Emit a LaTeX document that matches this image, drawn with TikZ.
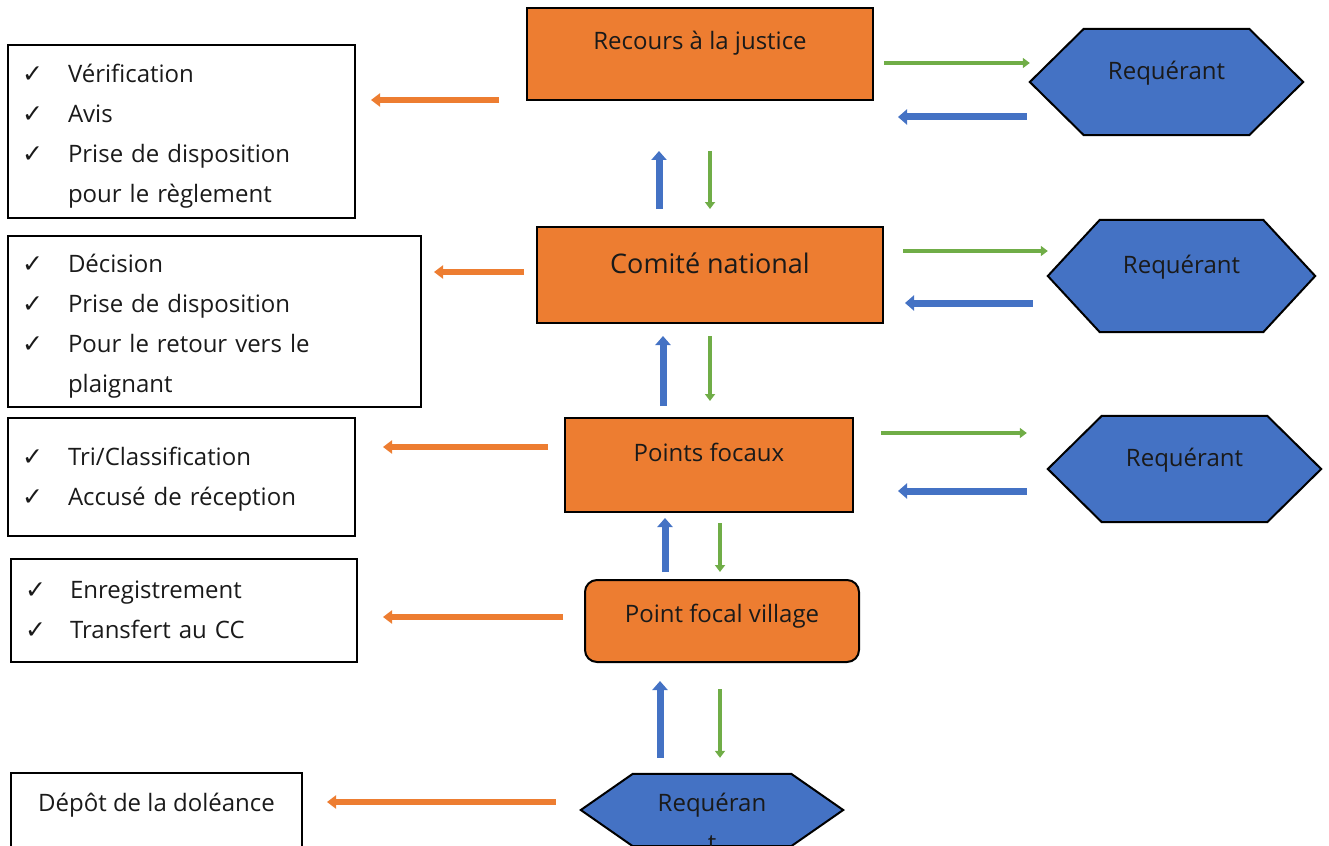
\documentclass[tikz,border=0pt]{standalone}
\usepackage{fontspec}
\setmainfont{Open Sans}
\newfontfamily\chkfont{DejaVu Sans}
\usetikzlibrary{arrows.meta,backgrounds}

\definecolor{orfill}{HTML}{ED7D31}
\definecolor{blfill}{HTML}{4472C4}
\definecolor{grline}{HTML}{70AD47}
\definecolor{txt}{HTML}{1A1A1A}

\newcommand{\chk}{{\chkfont\fontsize{25}{25}\selectfont ✓}}
\newcommand{\firstrow}{\rule{0pt}{34pt}}
% hexagon round an invisible node, #2 = depth of the points
\newcommand{\hexout}[2]{%
  \draw[hexline] (#1.west) -- ([xshift=#2]#1.north west) -- ([xshift=-#2]#1.north east)
    -- (#1.east) -- ([xshift=-#2]#1.south east) -- ([xshift=#2]#1.south west) -- cycle;}

\tikzset{
  procbox/.style={draw=black, line width=2pt, fill=orfill, text=txt, inner sep=0pt,
    font=\fontsize{24}{40}\selectfont, text height=18pt},
  reqbox/.style={inner sep=0pt, text=txt, font=\fontsize{24}{40}\selectfont, text height=18pt},
  hexline/.style={draw=black, line width=2pt, fill=blfill},
  listbox/.style={draw=black, line width=2pt, align=left, inner xsep=14pt, inner ysep=0pt,
    text=txt, font=\fontsize{24}{40}\selectfont},
  grarrow/.style={grline, line width=4.5pt, -{Triangle[width=10pt,length=7pt]}},
  blarrow/.style={blfill, line width=7pt, -{Triangle[width=15pt,length=9pt]}},
  orarrow/.style={orfill, line width=6pt, -{Triangle[width=13pt,length=9pt]}},
}

\begin{document}
\begin{tikzpicture}[x=1pt, y=-1pt]
  \useasboundingbox (0,0) rectangle (1329,845);

  %%t1
  \node[procbox, minimum width=346pt, minimum height=92pt, text depth=26pt] (rj) at (700,54) {Recours à la justice};
  \node[reqbox, minimum width=273pt, minimum height=106pt, text depth=22pt] (h1) at (1166.5,82) {Requérant};
  \node[listbox, text width=319pt, minimum height=173pt] (l1) at (181.5,131.5)
    {\begin{tabular}{@{}p{46pt}@{}l@{}}
      \firstrow\chk & Vérification\\
      \chk & Avis\\
      \chk & Prise de disposition\\
           & pour le règlement
     \end{tabular}};

  %%t2
  \node[procbox, minimum width=346pt, minimum height=96pt, font=\fontsize{27}{40}\selectfont,
    text height=20pt, text depth=23pt] (cn) at (710,275) {Comité national};
  \node[reqbox, minimum width=267pt, minimum height=112pt, text depth=24pt] (h2) at (1181.5,276) {Requérant};
  \node[listbox, text width=385pt, minimum height=171pt] (l2) at (214.5,321.5)
    {\begin{tabular}{@{}p{46pt}@{}l@{}}
      \firstrow\chk & Décision\\
      \chk & Prise de disposition\\
      \chk & Pour le retour vers le\\
           & plaignant
     \end{tabular}};

  %%t3
  \node[procbox, minimum width=288pt, minimum height=94pt, text depth=26pt] (pf) at (709,465) {Points focaux};
  \node[reqbox, minimum width=273pt, minimum height=106pt, text depth=24pt] (h3) at (1184.5,469) {Requérant};
  \node[listbox, text width=319pt, minimum height=118pt] (l3) at (181.5,477)
    {\begin{tabular}{@{}p{46pt}@{}l@{}}
      \chk & Tri/Classification\\
      \chk & Accusé de réception
     \end{tabular}};

  %%t4
  \node[procbox, rounded corners=12pt, minimum width=274pt, minimum height=82pt, text depth=16pt] (pv) at (722,621) {Point focal village};
  \node[listbox, text width=318pt, minimum height=103pt] (l4) at (184,610.5)
    {\begin{tabular}{@{}p{45pt}@{}l@{}}
      \chk & Enregistrement\\
      \chk & Transfert au CC
     \end{tabular}};

  %%t5
  \node[reqbox, minimum width=262pt, minimum height=72pt, text depth=16pt] (h4) at (712,810)
    {\begin{tabular}[t]{@{}c@{}}Requéran\\t\end{tabular}};
  \node[draw=black, line width=2pt, text=txt, font=\fontsize{24}{40}\selectfont, inner sep=0pt,
    minimum width=291pt, minimum height=100pt, text height=18pt, text depth=42pt] (l5) at (156.5,823) {Dépôt de la doléance};

  \begin{scope}[on background layer]
    \hexout{h1}{54pt}
    \hexout{h2}{52pt}
    \hexout{h3}{54pt}
    \hexout{h4}{52pt}
  \end{scope}

  %% side arrows
  \draw[grarrow] ([xshift=10pt,yshift=-9pt]rj.east) to ([yshift=19pt]h1.west);
  \draw[blarrow] ([xshift=-3pt,yshift=-35pt]h1.west) to ([xshift=24pt,yshift=-63pt]rj.east);
  \draw[orarrow] ([xshift=-27pt,yshift=-46pt]rj.west) to ([xshift=15pt,yshift=31.5pt]l1.east);

  \draw[grarrow] ([xshift=19pt,yshift=24pt]cn.east) to ([yshift=25pt]h2.west);
  \draw[blarrow] ([xshift=-15pt,yshift=-27pt]h2.west) to ([xshift=21pt,yshift=-28pt]cn.east);
  \draw[orarrow] ([xshift=-12pt,yshift=3pt]cn.west) to ([xshift=12pt,yshift=49.5pt]l2.east);

  \draw[grarrow] ([xshift=27pt,yshift=32pt]pf.east) to ([xshift=-21pt,yshift=36pt]h3.west);
  \draw[blarrow] ([xshift=-21pt,yshift=-22pt]h3.west) to ([xshift=44pt,yshift=-26pt]pf.east);
  \draw[orarrow] ([xshift=-16pt,yshift=18pt]pf.west) to ([xshift=27pt,yshift=30pt]l3.east);

  \draw[orarrow] ([xshift=-21pt,yshift=4pt]pv.west) to ([xshift=25pt,yshift=-6.5pt]l4.east);
  \draw[orarrow] ([xshift=-25pt,yshift=8pt]h4.west) to ([xshift=24pt,yshift=21pt]l5.east);

  %% up and down
  \draw[blarrow] ([xshift=-51pt,yshift=17pt]cn.north) to ([xshift=-41pt,yshift=-50pt]rj.south);
  \draw[grarrow] ([xshift=10pt,yshift=-50pt]rj.south) to ([yshift=17pt]cn.north);

  \draw[blarrow] ([xshift=-46pt,yshift=11pt]pf.north) to ([xshift=-47pt,yshift=-12pt]cn.south);
  \draw[grarrow] ([yshift=-12pt]cn.south) to ([xshift=1pt,yshift=16pt]pf.north);

  \draw[blarrow] ([xshift=-57pt,yshift=7pt]pv.north) to ([xshift=-44pt,yshift=-5pt]pf.south);
  \draw[grarrow] ([xshift=11pt,yshift=-10pt]pf.south) to ([xshift=-2pt,yshift=7pt]pv.north);

  \draw[blarrow] ([xshift=-52pt,yshift=16pt]h4.north) to ([xshift=-62pt,yshift=-18pt]pv.south);
  \draw[grarrow] ([xshift=-2pt,yshift=-26pt]pv.south) to ([xshift=8pt,yshift=16pt]h4.north);

\end{tikzpicture}
\end{document}
